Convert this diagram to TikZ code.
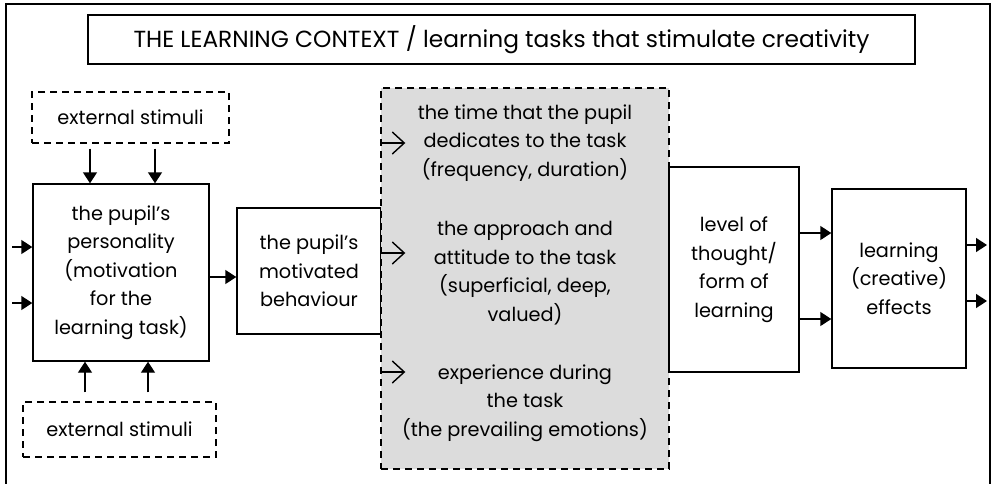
\documentclass[tikz,border=0pt]{standalone}
\usepackage{fontspec}
\setmainfont{Poppins}
\usetikzlibrary{arrows.meta}
\definecolor{boxgray}{RGB}{220,220,220}
\tikzset{
  box/.style={draw, line width=1.4pt, inner sep=0pt, align=center, font=\fontsize{19.3}{28.5}\selectfont},
  dbox/.style={box, dashed, dash pattern=on 7pt off 5pt},
  txt/.style={inner sep=0pt, align=center, font=\fontsize{19.3}{28.5}\selectfont},
  arr/.style={line width=1.4pt, -{Triangle[length=11pt,width=14pt]}},
  oarr/.style={line width=1.4pt, -{Straight Barb[length=12pt,width=22pt,line width=1.4pt]}},
}
\begin{document}
\begin{tikzpicture}[x=1pt,y=-1pt]
\useasboundingbox (0,0) rectangle (993,483);
\draw[line width=2pt] (6,484) -- (6,4) -- (990,4) -- (990,484);
\node[box, minimum width=827pt, minimum height=49pt, font=\fontsize{23.3}{28}\selectfont] (title) at (501.5,39.5) {THE LEARNING CONTEXT / learning tasks that stimulate creativity};
\node[dbox, minimum width=197pt, minimum height=51pt] (ext1) at (130.5,117.5) {external stimuli};
\node[box, minimum width=176pt, minimum height=177pt] (pers) at (121,272.5) {the pupil’s\\personality\\(motivation\\for the\\learning task)};
\node[dbox, minimum width=193pt, minimum height=55pt] (ext2) at (119.5,429.5) {external stimuli};
\node[box, minimum width=144pt, minimum height=126pt] (beh) at (309,271) {\raisebox{7pt}{\parbox{140pt}{\centering the pupil’s\\motivated\\behaviour}}};
\node[dbox, fill=boxgray, minimum width=288pt, minimum height=381pt] (gray) at (525,278.5) {};
\node[txt] (t1) at (525,143) {the time that the pupil\\dedicates to the task\\(frequency, duration)};
\node[txt] (t2) at (525,273) {the approach and\\attitude to the task\\(superficial, deep,\\valued)};
\node[txt] (t3) at (525,403) {experience during\\the task\\(the prevailing emotions)};
\node[box, minimum width=130pt, minimum height=205pt] (level) at (734,269.5) {level of\\thought/\\form of\\learning};
\node[box, minimum width=134pt, minimum height=179pt] (eff) at (899,278.5) {\raisebox{5pt}{\parbox{130pt}{\centering learning\\(creative)\\effects}}};
% arrows from external stimuli
\draw[arr] ([xshift=-40.5pt,yshift=-5pt]ext1.south) -- ([xshift=-40.5pt]ext1.south |- pers.north);
\draw[arr] ([xshift=24.5pt,yshift=-5pt]ext1.south) -- ([xshift=24.5pt]ext1.south |- pers.north);
\draw[arr] ([xshift=-34.5pt,yshift=9pt]ext2.north) -- ([xshift=-34.5pt]ext2.north |- pers.south);
\draw[arr] ([xshift=28.5pt,yshift=9pt]ext2.north) -- ([xshift=28.5pt]ext2.north |- pers.south);
% inputs on the left
\coordinate (in1) at (12,247);
\coordinate (in2) at (12,303);
\draw[arr] (in1) -- (in1 -| pers.west);
\draw[arr] (in2) -- (in2 -| pers.west);
% personality to behaviour
\draw[arr] ([yshift=-4.5pt]pers.east) -- ([yshift=-4.5pt]pers.east -| beh.west);
% open arrows into grey box
\coordinate (g1) at ([xshift=25pt,yshift=135.5pt]gray.west);
\coordinate (g2) at ([xshift=25pt,yshift=25.5pt]gray.west);
\coordinate (g3) at ([xshift=25pt,yshift=-93.5pt]gray.west);
\draw[oarr] (g1 -| gray.west) -- (g1);
\draw[oarr] (g2 -| gray.west) -- (g2);
\draw[oarr] (g3 -| gray.west) -- (g3);
% level to effects
\draw[arr] ([yshift=36.5pt]level.east) -- ([yshift=36.5pt]level.east -| eff.west);
\draw[arr] ([yshift=-49.5pt]level.east) -- ([yshift=-49.5pt]level.east -| eff.west);
% outputs
\coordinate (o1) at (987,245);
\coordinate (o2) at (987,301);
\draw[arr] (o1 -| eff.east) -- (o1);
\draw[arr] (o2 -| eff.east) -- (o2);
\end{tikzpicture}
\end{document}
